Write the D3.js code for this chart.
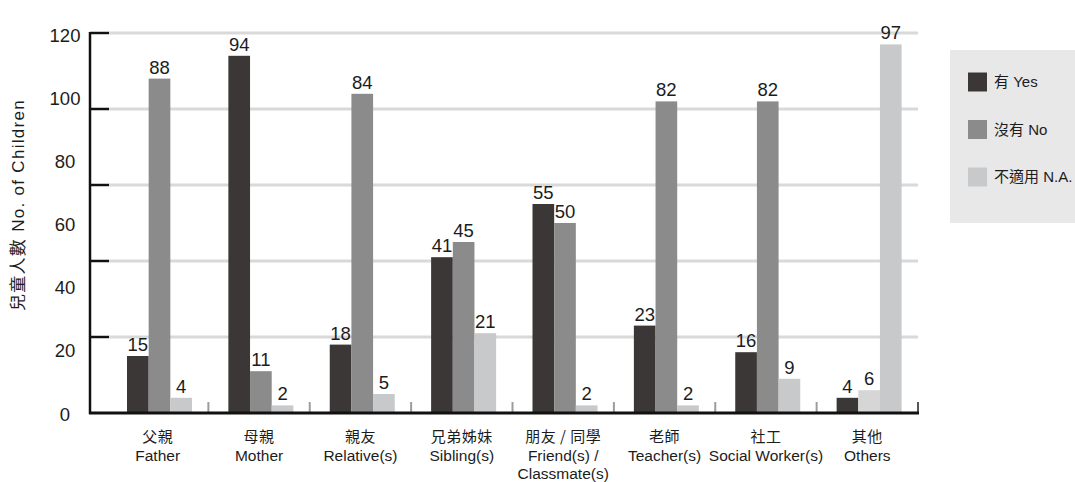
<!DOCTYPE html>
<html>
<head>
<meta charset="utf-8">
<script src="https://cdn.jsdelivr.net/npm/d3@7"></script>
<style>
  html, body { margin: 0; padding: 0; background: #ffffff; }
  svg { display: block; }
  text { font-family: "Liberation Sans", Arial, "Noto Sans CJK TC", sans-serif; fill: #1c1c1c; }
  .zh { font-family: "Noto Sans CJK TC", "Liberation Sans", sans-serif; }
</style>
</head>
<body>
<svg id="chart" width="1075" height="482"></svg>
<script>
// Categories (Chinese / English lines)
const categoriesZh = ["父親", "母親", "親友", "兄弟姊妹", "朋友 / 同學", "老師", "社工", "其他"];
const categoriesEn = [["Father"], ["Mother"], ["Relative(s)"], ["Sibling(s)"], ["Friend(s) /", "Classmate(s)"], ["Teacher(s)"], ["Social Worker(s)"], ["Others"]];

// Series
const seriesNames = ["有 Yes", "沒有 No", "不適用 N.A."];
const yesValues = [15, 94, 18, 41, 55, 23, 16, 4];
const noValues  = [88, 11, 84, 45, 50, 82, 82, 6];
const naValues  = [4, 2, 5, 21, 2, 2, 9, 97];

// Axis tick labels
const tickLabels = [0, 20, 40, 60, 80, 100, 120];
const gridValues = [0, 20, 40, 60, 80, 100];

const seriesValues = [yesValues, noValues, naValues];
const colors = ["#3a3736", "#8a8b8a", "#c8c9cb"];

const svg = d3.select("#chart");

// Bar scale: baseline to top gridline
const y = d3.scaleLinear().domain([0, 100]).range([413, 33]);
// Tick label placement along the axis
const yLabel = d3.scaleLinear().domain([0, 120]).range([414, 35]);

const x = d3.scaleBand().domain(d3.range(categoriesZh.length)).range([107, 918]).paddingInner(0).paddingOuter(0);
const xSub = d3.scaleBand().domain(d3.range(seriesNames.length)).range([20, 85]).padding(0);

// Gridlines
svg.append("g").selectAll("line")
  .data(gridValues.filter(v => v > 0))
  .join("line")
  .attr("x1", 109).attr("x2", 918)
  .attr("y1", d => y(d)).attr("y2", d => y(d))
  .attr("stroke", "#d9d9d9").attr("stroke-width", 3);

// Bars
const groups = svg.append("g").selectAll("g")
  .data(categoriesZh.map((c, i) => i))
  .join("g")
  .attr("transform", i => `translate(${x(i)},0)`);

function barFill(ci, si) {
  // the "No" bar of the last group is drawn in a lighter tone
  if (ci === categoriesZh.length - 1 && si === 1) return "#d6d6d6";
  return colors[si];
}

groups.selectAll("rect")
  .data(ci => seriesValues.map((vals, si) => ({ ci, si, v: vals[ci] })))
  .join("rect")
  .attr("x", d => xSub(d.si))
  .attr("width", xSub.bandwidth())
  .attr("y", d => y(d.v))
  .attr("height", d => y(0) - y(d.v))
  .attr("fill", d => barFill(d.ci, d.si));

groups.selectAll("text.val")
  .data(ci => seriesValues.map((vals, si) => ({ ci, si, v: vals[ci] })))
  .join("text")
  .attr("class", "val")
  .attr("x", d => xSub(d.si) + xSub.bandwidth() / 2)
  .attr("y", d => y(d.v) - 5)
  .attr("text-anchor", "middle")
  .attr("font-size", 18.5)
  .text(d => d.v);

// Category boundary marks on the baseline
svg.append("g").selectAll("line")
  .data(d3.range(1, categoriesZh.length + 1))
  .join("line")
  .attr("x1", i => x(i - 1) + x.bandwidth()).attr("x2", i => x(i - 1) + x.bandwidth())
  .attr("y1", 402).attr("y2", 413)
  .attr("stroke", i => i === categoriesZh.length ? "#555" : "#9c9c9c")
  .attr("stroke-width", 2);

// Baseline
svg.append("line")
  .attr("x1", 89).attr("x2", 919)
  .attr("y1", y(0)).attr("y2", y(0))
  .attr("stroke", "#111").attr("stroke-width", 3);

// Y axis line and tick marks
svg.append("line")
  .attr("x1", 90).attr("x2", 90)
  .attr("y1", 32).attr("y2", 414)
  .attr("stroke", "#111").attr("stroke-width", 2.5);

svg.append("g").selectAll("line")
  .data(gridValues.filter(v => v > 0))
  .join("line")
  .attr("x1", 90).attr("x2", 109)
  .attr("y1", d => y(d)).attr("y2", d => y(d))
  .attr("stroke", "#111").attr("stroke-width", 2.5);

// Y tick labels
svg.append("g").selectAll("text")
  .data(tickLabels)
  .join("text")
  .attr("x", 65)
  .attr("y", d => yLabel(d))
  .attr("dy", "0.36em")
  .attr("text-anchor", "middle")
  .attr("font-size", 18.5)
  .text(d => d);

// Y axis title
svg.append("text")
  .attr("transform", "translate(24,205) rotate(-90)")
  .attr("text-anchor", "middle")
  .attr("font-size", 17)
  .attr("letter-spacing", "1.3px")
  .text("兒童人數 No. of Children");

// Category labels
const catLabels = svg.append("g").selectAll("g")
  .data(categoriesZh.map((c, i) => i))
  .join("g")
  .attr("transform", i => `translate(${x(i) + x.bandwidth() / 2},0)`);

catLabels.append("text")
  .attr("class", "zh")
  .attr("y", 442)
  .attr("text-anchor", "middle")
  .attr("font-size", 15)
  .attr("letter-spacing", "0.5px")
  .text(i => categoriesZh[i]);

catLabels.each(function (i) {
  d3.select(this).selectAll("text.en")
    .data(categoriesEn[i])
    .join("text")
    .attr("class", "en")
    .attr("y", (d, k) => 461 + k * 18)
    .attr("text-anchor", "middle")
    .attr("font-size", 15.5)
    .text(d => d);
});

// Legend
const legend = svg.append("g");
legend.append("rect")
  .attr("x", 950).attr("y", 50)
  .attr("width", 130).attr("height", 173)
  .attr("fill", "#e8e8e8");

const legendY = d3.scalePoint().domain(d3.range(seriesNames.length)).range([82, 177]);
const items = legend.selectAll("g.item")
  .data(seriesNames.map((n, i) => i))
  .join("g")
  .attr("class", "item")
  .attr("transform", i => `translate(968,${legendY(i)})`);

items.append("rect")
  .attr("x", 0).attr("y", -9.5)
  .attr("width", 19).attr("height", 19)
  .attr("fill", i => colors[i]);

items.append("text")
  .attr("x", 26)
  .attr("dy", "0.36em")
  .attr("font-size", 15)
  .text(i => seriesNames[i]);
</script>
</body>
</html>
